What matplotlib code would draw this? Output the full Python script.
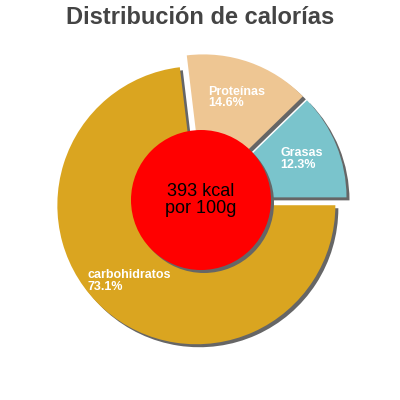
import numpy as np
import matplotlib.pyplot as plt

plt.rcParams['font.family'] = ['Liberation Sans', 'DejaVu Sans']

# data
labels = ['Grasas', 'Proteínas', 'carbohidratos']
percents = [12.3, 14.6, 73.1]
colors = ['#7AC4CC', '#EEC693', '#DAA520']
kcal_text = '393 kcal\npor 100g'
title = 'Distribución de calorías'

fig = plt.figure(figsize=(4, 4), dpi=100)
ax = fig.add_axes([0, 0, 1, 1])

cx, cy = 201, 200
r = 139
explode = [7] * len(percents)  # pie explode is in data units here
shadow = '#666666'
sh = (3, -3)

# shadow layer
ax.pie(percents, colors=[shadow] * 3, startangle=0, counterclock=True,
       radius=r, center=(cx + sh[0], cy + sh[1]), explode=explode,
       wedgeprops=dict(linewidth=0), frame=True)
# main wedges
wedges, _ = ax.pie(percents, colors=colors, startangle=0, counterclock=True,
                   radius=r, center=(cx, cy), explode=explode,
                   wedgeprops=dict(linewidth=0), frame=True)

ax.set_xlim(0, 400)
ax.set_ylim(0, 400)
ax.set_aspect('equal')
ax.axis('off')

# labels inside slices
start = 0.0
for lab, p, w in zip(labels, percents, wedges):
    mid = np.radians(start + p * 3.6 / 2)
    ox, oy = w.center
    lx = ox + 0.73 * r * np.cos(mid)
    ly = oy + 0.73 * r * np.sin(mid)
    ax.text(lx, ly, f'{lab}\n{p}%', color='white', fontsize=9,
            fontweight='bold', ha='center', va='center',
            multialignment='left', linespacing=0.95)
    start += p * 3.6

# center circle
ax.add_patch(plt.Circle((cx + sh[0], cy + sh[1]), 70, color=shadow, lw=0))
ax.add_patch(plt.Circle((cx, cy), 70, color='#FF0000', lw=0))
ax.text(cx, cy, kcal_text, ha='center', va='center', fontsize=13,
        color='black', linespacing=1.0)

fig.text(0.5, 0.955, title, ha='center', va='center', fontsize=17,
         fontweight='bold', color='#444444')

fig.savefig('out.png', dpi=100, facecolor='white')
